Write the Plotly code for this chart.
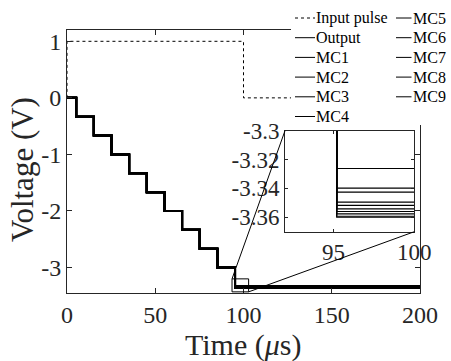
import plotly.graph_objects as go

# ---------------- data ----------------
step_times = [5.2, 15.2, 25.2, 35.2, 45.2, 55.2, 65.2, 75.2, 85.2, 95.2]
step_levels = [-0.333, -0.667, -1.0, -1.333, -1.667, -2.0, -2.333, -2.667, -3.0]
series_names = ["Output", "MC1", "MC2", "MC3", "MC4", "MC5", "MC6", "MC7", "MC8", "MC9"]
final_levels = [-3.3262, -3.3398, -3.3426, -3.3495, -3.3518, -3.3542, -3.3560, -3.3576, -3.3593, -3.3600]
pulse_t = [0, 0, 100, 100, 200]
pulse_v = [0, 1, 1, 0, 0]
t_start = 0
t_end = 200
x_ticks = [0, 50, 100, 150, 200]
x_ticktext = ["0", "50", "100", "150", "200"]
y_ticks = [-3, -2, -1, 0, 1]
y_ticktext = ["-3", "-2", "-1", "0", "1"]
inset_x_ticks = [95, 100]
inset_x_ticktext = ["95", "100"]
inset_y_ticks = [-3.36, -3.34, -3.32, -3.3]
inset_y_ticktext = ["-3.36", "-3.34", "-3.32", "-3.3"]
legend_labels = ["Input pulse"] + series_names
x_title = "Time (<i>μ</i>s)"
y_title = "Voltage (V)"

# ---------------- layout geometry ----------------
W, H = 451, 361
ML, MR, MT, MB = 67, 31, 30, 68
PW, PH = W - ML - MR, H - MT - MB
FONT = "Liberation Serif"
AX = "#262626"


def px_x(px):
    return (px - ML) / PW


def px_y(py):
    return (H - MB - py) / PH


x_range = [0, 200]
y_range = [-3.45, 1.2]
inset_xdom = [px_x(285), px_x(414.3)]
inset_ydom = [px_y(231.7), px_y(130.7)]
inset_xrange = [92, 100]
inset_yrange = [-3.37, -3.3]
zoom_box = dict(x0=93.5, x1=102.9, y0=-3.43, y1=-3.2)

fig = go.Figure()

# input pulse (dashed)
fig.add_trace(go.Scatter(x=pulse_t, y=pulse_v, mode="lines", name="Input pulse",
                         line=dict(color="black", width=1, dash="3px,3px"),
                         xaxis="x", yaxis="y", showlegend=False))

# output + MC staircases (main axes)
for name, fin in zip(series_names, final_levels):
    xs = [t_start] + step_times + [t_end]
    ys = [0] + step_levels + [fin, fin]
    fig.add_trace(go.Scatter(x=xs, y=ys, mode="lines", name=name, line_shape="hv",
                             line=dict(color="black", width=2),
                             xaxis="x", yaxis="y", showlegend=False))

# same curves in inset
for name, fin in zip(series_names, final_levels):
    xs = [t_start] + step_times + [t_end]
    ys = [0] + step_levels + [fin, fin]
    fig.add_trace(go.Scatter(x=xs, y=ys, mode="lines", name=name, line_shape="hv",
                             line=dict(color="black", width=1.2),
                             xaxis="x2", yaxis="y2", showlegend=False))

tickfont = dict(family=FONT, size=24, color=AX)
common_ax = dict(showline=True, linecolor=AX, linewidth=1, mirror="ticks", ticks="inside",
                 tickcolor=AX, showgrid=False, zeroline=False)

fig.update_layout(
    width=W, height=H, autosize=False,
    margin=dict(l=ML, r=MR, t=MT, b=MB),
    paper_bgcolor="white", plot_bgcolor="white",
    showlegend=False,
    font=dict(family=FONT, color=AX),
    xaxis=dict(domain=[0, 1], range=x_range, tickvals=x_ticks, ticktext=x_ticktext,
               ticklen=5, tickfont=tickfont, anchor="y", **common_ax),
    yaxis=dict(domain=[0, 1], range=y_range, tickvals=y_ticks, ticktext=y_ticktext,
               ticklen=5, tickfont=tickfont, anchor="x", **common_ax),
    xaxis2=dict(domain=inset_xdom, range=inset_xrange, tickvals=inset_x_ticks, ticktext=inset_x_ticktext,
                ticklen=3, tickfont=dict(family=FONT, size=23, color=AX), anchor="y2", **common_ax),
    yaxis2=dict(domain=inset_ydom, range=inset_yrange, tickvals=inset_y_ticks, ticktext=inset_y_ticktext,
                ticklen=3, tickfont=dict(family=FONT, size=23, color=AX), anchor="x2", **common_ax),
)

shapes = []
# zoom box on main axes
shapes.append(dict(type="rect", xref="x", yref="y", line=dict(color="black", width=1),
                   fillcolor="rgba(0,0,0,0)", **zoom_box))


# connectors (main data coords)
def dom_to_x(d):
    return x_range[0] + d * (x_range[1] - x_range[0])


def dom_to_y(d):
    return y_range[0] + d * (y_range[1] - y_range[0])


shapes.append(dict(type="line", xref="x", yref="y", line=dict(color="black", width=1),
                   x0=zoom_box["x0"], y0=zoom_box["y1"],
                   x1=dom_to_x(inset_xdom[0]), y1=dom_to_y(inset_ydom[1])))
shapes.append(dict(type="line", xref="x", yref="y", line=dict(color="black", width=1),
                   x0=zoom_box["x1"], y0=zoom_box["y0"],
                   x1=dom_to_x(inset_xdom[1]), y1=dom_to_y(inset_ydom[0])))

# legend background (covers axes corner)
shapes.append(dict(type="rect", xref="paper", yref="paper", layer="above",
                   x0=px_x(291), x1=px_x(W + 5), y0=px_y(125), y1=px_y(-5),
                   fillcolor="white", line=dict(width=0)))

annotations = []
# axis titles
annotations.append(dict(text=x_title, xref="paper", yref="paper", x=px_x(243), y=px_y(345),
                        xanchor="center", yanchor="middle", showarrow=False,
                        font=dict(family=FONT, size=30, color=AX)))
annotations.append(dict(text=y_title, xref="paper", yref="paper", x=px_x(22), y=px_y(170),
                        xanchor="center", yanchor="middle", showarrow=False, textangle=-90,
                        font=dict(family=FONT, size=31, color=AX)))

row_y = [18, 37.7, 57.4, 77.1, 96.8, 116.5]
col_line = [(295, 315), (396, 411.5)]
for i, lab in enumerate(legend_labels):
    col = 0 if i < 6 else 1
    row = i if i < 6 else i - 6
    ypx = row_y[row]
    lx0, lx1 = col_line[col]
    shapes.append(dict(type="line", xref="paper", yref="paper", layer="above",
                       x0=px_x(lx0), x1=px_x(lx1), y0=px_y(ypx), y1=px_y(ypx),
                       line=dict(color="black", width=1, dash="3px,3px" if i == 0 else "solid")))
    annotations.append(dict(text=lab, xref="paper", yref="paper", x=px_x(lx1 - 1), y=px_y(ypx),
                            xanchor="left", yanchor="middle", showarrow=False,
                            font=dict(family=FONT, size=16, color="black")))

fig.update_layout(shapes=shapes, annotations=annotations)
fig.write_html("out.html", config={"displayModeBar": False},
               post_script="document.body.style.margin='0';document.body.style.padding='0';")
